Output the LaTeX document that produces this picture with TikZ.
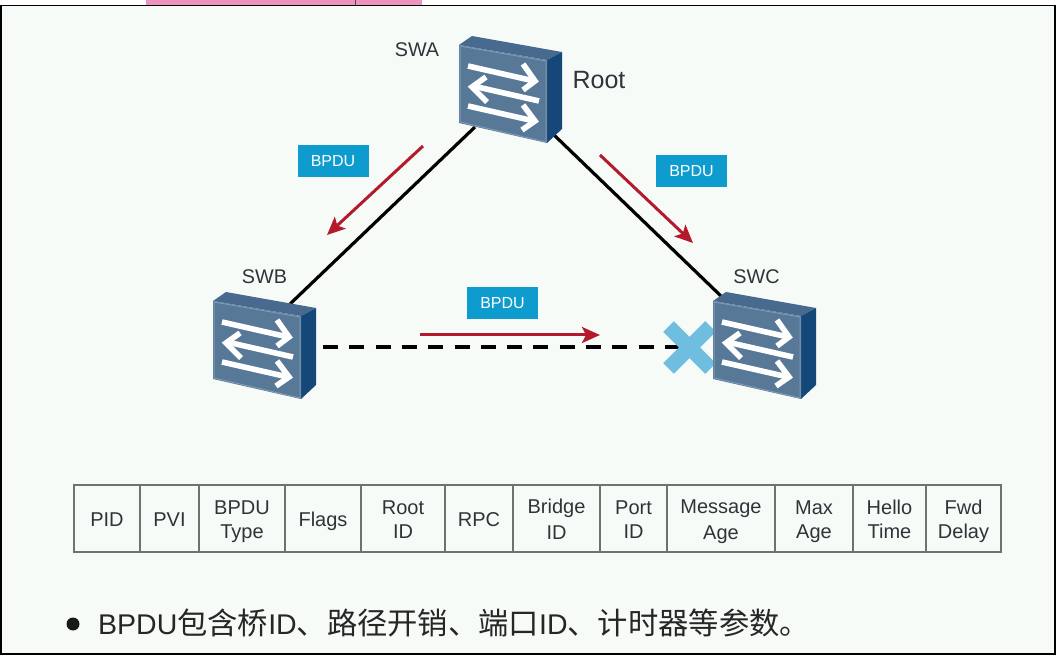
\documentclass[tikz,border=0pt]{standalone}
\usepackage{fontspec}
\setmainfont{Liberation Sans}
\newfontfamily\cjk{Noto Sans CJK SC}
\usetikzlibrary{arrows.meta}
\definecolor{pagebg}{HTML}{F7FBF8}
\definecolor{pinkbar}{HTML}{EE93BF}
\definecolor{bpdublue}{HTML}{0E9CCF}
\definecolor{redarrow}{HTML}{B31B2C}
\definecolor{xblue}{HTML}{6FBEDF}
\definecolor{swfront}{HTML}{587898}
\definecolor{swtop}{HTML}{476A8E}
\definecolor{swside}{HTML}{154878}
\definecolor{swedge}{HTML}{7D99B3}
\definecolor{txt}{HTML}{303438}
\definecolor{gridc}{HTML}{6E7270}
\newcommand{\cs}{\rule[-4pt]{0pt}{24pt}}
\newcommand{\cjkb}{\cjk\fontsize{30.3}{34}\selectfont}
\tikzset{
  x=1pt,y=-1pt,
  link/.style={line width=3.2pt,black},
  flow/.style={line width=3pt,redarrow,-{Stealth[length=18pt,width=16pt,inset=4pt]}},
  tag/.style={fill=bpdublue,text=white,minimum width=71pt,minimum height=32pt,inner sep=0pt,font=\fontsize{16}{18}\selectfont},
  lab/.style={text=txt,inner sep=0pt,font=\fontsize{19.8}{22}\selectfont},
  cell/.style={draw=gridc,line width=1.6pt,text=txt,inner sep=0pt,align=center,font=\fontsize{20}{24}\selectfont},
  swarrow/.style={white,line width=5.6pt,line join=miter},
  swbody/.style={inner sep=0pt,minimum size=0pt}
}
\newcommand{\switchbox}[3]{% x y name (front top-left corner)
  \begin{scope}[shift={(#1,#2)}]
    \node[swbody] (#3) at (44,40) {};
    \fill[swtop] (0,0) -- (13,-9) -- (103,7) -- (88,15) -- cycle;
    \fill[swside] (88,15) -- (103,7) -- (103,84) -- (88,98) -- cycle;
    \fill[swfront] (0,0) -- (88,15) -- (88,98) -- (0,78) -- cycle;
    \draw[swedge,line width=1pt] (1,1) -- (87,16) -- (87,97) -- (1,77) -- cycle;
    \draw[swarrow] (9,21) -- (75,36);
    \draw[swarrow] (64,19) -- (76,36) -- (64,45);
    \draw[swarrow] (80,56) -- (14,41);
    \draw[swarrow] (27,32) -- (13,42) -- (28,57);
    \draw[swarrow] (9,61) -- (75,76);
    \draw[swarrow] (64,60) -- (76,76) -- (63,85);
  \end{scope}
}
\begin{document}
\begin{tikzpicture}
\useasboundingbox (0,0) rectangle (1061,660);
\fill[white] (0,0) rectangle (1061,660);
\fill[pinkbar] (146,0) rectangle (422,5);
\draw[black!70,line width=.8pt] (355,0) -- (355,5);
\fill[pagebg] (1,5) rectangle (1055,654);
\draw[black,line width=1.8pt] (0.8,5.5) -- (1055,5.5) -- (1055,654) -- (0.8,654) -- cycle;

% port coordinates
\coordinate (swaL) at (475,127);
\coordinate (swaR) at (553,134);
\coordinate (swbT) at (290,304);
\coordinate (swcT) at (722,297);
\coordinate (swbR) at (323,347);
\coordinate (swcL) at (690,347);
\draw[link] (swaL) -- (swbT);
\draw[link] (swaR) -- (swcT);
\draw[link,dash pattern=on 15pt off 11.3pt] (swbR) -- (swcL);

% blocked-port cross
\coordinate (xc) at (689.5,347.5);
\draw[xblue,line width=15pt] ([shift={(-21,-21)}]xc) -- ([shift={(21,21)}]xc);
\draw[xblue,line width=15pt] ([shift={(-21,21)}]xc) -- ([shift={(21,-21)}]xc);

\switchbox{459}{45}{swa}
\switchbox{213}{301}{swb}
\switchbox{713}{301}{swc}

\node[lab,anchor=center] (la) at (417,50) {SWA};
\node[lab,anchor=center] (lb) at (264.5,277) {SWB};
\node[lab,anchor=center] (lc) at (756.5,277) {SWC};
\node[text=txt,inner sep=0pt,font=\fontsize{25}{28}\selectfont] (lr) at (599,80) {Root};

\node[tag] (t1) at (333,161) {BPDU};
\node[tag] (t2) at (691.5,171) {BPDU};
\node[tag] (t3) at (502.5,303) {BPDU};

\coordinate (a1s) at (423,146); \coordinate (a1e) at (327,235);
\coordinate (a2s) at (600,155); \coordinate (a2e) at (693,243);
\coordinate (a3s) at (420,335); \coordinate (a3e) at (600,335);
\draw[flow] (a1s) -- (a1e);
\draw[flow] (a2s) -- (a2e);
\draw[flow] (a3s) -- (a3e);

% field table
\foreach \nm/\xa/\xb/\ct in {c1/74/140/{\cs PID},c2/140/199/{\cs PVI},c3/199/285/{\cs BPDU\\\cs Type},c4/285/361/{\cs Flags},c5/361/445/{\cs Root\\\cs ID},c6/445/513/{\cs RPC},c7/513/600/{\cs Bridge\\\cs ID},c8/600/667/{\cs Port\\\cs ID},c9/667/775/{\cs Message\\\cs Age},c10/775/853/{\cs Max\\\cs Age},c11/853/926/{\cs Hello\\\cs Time},c12/926/1001/{\cs Fwd\\\cs Delay}}{
  \pgfmathsetmacro{\mx}{(\xa+\xb)/2}
  \pgfmathsetmacro{\cw}{\xb-\xa}
  \node[cell,minimum width=\cw pt,minimum height=67pt,outer sep=0pt] (\nm) at (\mx,518.5) {\ct};
}

\fill[black!90] (73,624) circle (6.5pt);
\node[anchor=west,inner sep=0pt,text=black!85,font=\fontsize{28.5}{34}\selectfont] (bul) at (98,623) {BPDU{\cjkb 包含桥}ID{\cjkb 、路径开销、端口}ID{\cjkb 、计时器等参数。}};
\end{tikzpicture}
\end{document}
